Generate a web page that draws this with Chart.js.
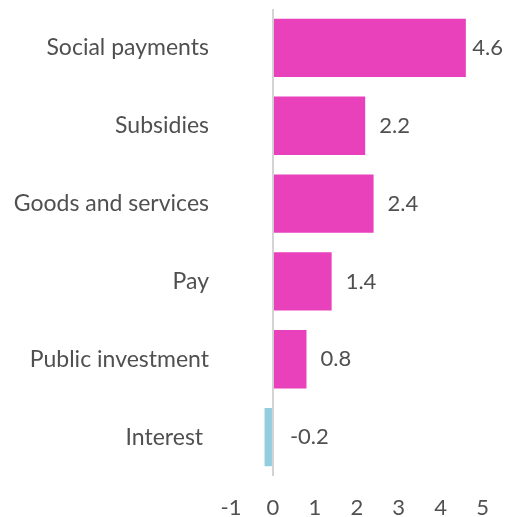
<!DOCTYPE html>
<html>
<head>
<meta charset="utf-8">
<script src="https://cdn.jsdelivr.net/npm/chart.js@4"></script>
<style>
  html, body { margin: 0; padding: 0; background: #fff; }
  #wrap { width: 508px; height: 517px; }
</style>
</head>
<body>
<div id="wrap"><canvas id="chart" width="508" height="517"></canvas></div>
<script>
// spending categories and change in each one
const categories = ["Social payments", "Subsidies", "Goods and services", "Pay", "Public investment", "Interest "];
const values = [4.6, 2.2, 2.4, 1.4, 0.8, -0.2];
const xTicks = [-1, 0, 1, 2, 3, 4, 5];

const PINK = "#e940bc";
const BLUE = "#93cedf";
const TEXT = "#505050";
const FONT = "Lato, 'Open Sans', sans-serif";
const LABEL_SIZE = 23;
const NUM_SIZE = 22;

// write each value just past the end of its bar (or past zero for negatives),
// pulled back in when it would run off the right edge
const valueLabels = {
  id: "valueLabels",
  afterDatasetsDraw(chart) {
    const ctx = chart.ctx;
    const meta = chart.getDatasetMeta(0);
    const x = chart.scales.x;
    ctx.save();
    ctx.font = NUM_SIZE + "px " + FONT;
    ctx.fillStyle = TEXT;
    ctx.textAlign = "left";
    ctx.textBaseline = "middle";
    meta.data.forEach((bar, i) => {
      const v = values[i];
      const txt = v.toFixed(1);
      let px = v >= 0 ? bar.x + 14 : x.getPixelForValue(0) + 17;
      px = Math.min(px, chart.width - 5 - ctx.measureText(txt).width);
      ctx.fillText(txt, px, bar.y);
    });
    ctx.restore();
  }
};

new Chart(document.getElementById("chart"), {
  type: "bar",
  data: {
    labels: categories,
    datasets: [{
      data: values,
      backgroundColor: values.map(v => v < 0 ? BLUE : PINK),
      borderWidth: 0,
      categoryPercentage: 1,
      barPercentage: 0.75
    }]
  },
  options: {
    indexAxis: "y",
    responsive: false,
    animation: false,
    layout: { padding: { top: 9, right: 23, left: 0, bottom: 0 } },
    plugins: { legend: { display: false }, tooltip: { enabled: false } },
    scales: {
      x: {
        min: -1,
        max: 5,
        afterBuildTicks(scale) { scale.ticks = xTicks.map(v => ({ value: v })); },
        afterFit(scale) { scale.height = 41; },
        border: { display: false },
        grid: {
          drawTicks: false,
          color: c => c.tick && c.tick.value === 0 ? "#d4d4d4" : "rgba(0,0,0,0)",
          lineWidth: 2
        },
        ticks: { color: TEXT, font: { family: FONT, size: NUM_SIZE }, padding: 19 }
      },
      y: {
        afterFit(scale) {
          scale.width = 231;
          scale.paddingTop = 0;
          scale.paddingBottom = 0;
        },
        border: { display: false },
        grid: { display: false },
        ticks: { color: TEXT, font: { family: FONT, size: LABEL_SIZE }, padding: 14 }
      }
    }
  },
  plugins: [valueLabels]
});
</script>
</body>
</html>
